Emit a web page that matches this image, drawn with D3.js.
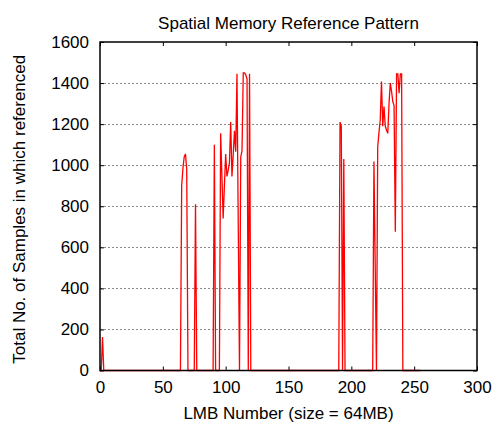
<!DOCTYPE html>
<html lang="en">
<head>
<meta charset="utf-8">
<title>Spatial Memory Reference Pattern</title>
<script src="https://d3js.org/d3.v7.min.js"></script>
<style type="text/css">
body {
    margin: 0;
    background: #fff;
}
text {
    font-family: "Liberation Sans", Arial, sans-serif;
    fill: #000;
}
</style>
</head>
<body>
<div id="my_dataviz"></div>
<script>
// LMB numbers and the samples count (line sits on 0 between spikes)
var lmbNumbers = [0, 1, 2, 3,
  64, 65, 66, 67, 68, 69, 70,
  75, 76, 77,
  90, 91, 92, 95, 96, 97, 98, 99, 100, 101, 102, 103, 104, 105, 106, 107, 108, 109, 110,
  111, 112, 113, 114, 115, 116, 117, 118, 119, 120,
  190, 191, 192, 193, 194, 195,
  217, 218, 219, 220, 221, 222, 223, 224, 225, 226, 227, 228, 229, 230,
  231, 232, 233, 234, 235, 236, 237, 238, 239, 240, 241, 255];
var sampleCounts = [0, 0, 163, 0,
  0, 900, 985, 1040, 1055, 980, 0,
  0, 810, 0,
  0, 1100, 0, 0, 1156, 950, 741, 900, 1054, 945, 975, 1010, 1210, 945, 1050, 1167, 1066, 1445, 720,
  0, 1040, 1070, 1450, 1450, 1440, 1420, 0, 1445, 0,
  0, 1210, 1190, 0, 1030, 0,
  0, 1018, 510, 0, 1090, 1160, 1220, 1408, 1190, 1286, 1190, 1170, 1155, 1300,
  1400, 1360, 1310, 1290, 676, 1445, 1445, 1350, 1445, 1445, 0, 0];

var xTicks = [0, 50, 100, 150, 200, 250, 300];
var yTicks = [0, 200, 400, 600, 800, 1000, 1200, 1400, 1600];
var gridValues = [200, 400, 600, 800, 1000, 1200, 1400];

var W = 493, H = 426;
var margin = {top: 42, right: 16, bottom: 55.5, left: 100};
var width = W - margin.left - margin.right,
    height = H - margin.top - margin.bottom;

var svg = d3.select("#my_dataviz")
  .append("svg")
    .attr("width", W)
    .attr("height", H)
  .append("g")
    .attr("transform", "translate(" + margin.left + "," + margin.top + ")");

var x = d3.scaleLinear().domain([0, 300]).range([0, width]);
var y = d3.scaleLinear().domain([0, 1600]).range([height, 0]);

// dashed grid
svg.append("g")
  .selectAll("line")
  .data(gridValues)
  .enter()
  .append("line")
    .attr("x1", 0)
    .attr("x2", width)
    .attr("y1", function(d) { return Math.round(y(d)) + 0.5; })
    .attr("y2", function(d) { return Math.round(y(d)) + 0.5; })
    .attr("stroke", "#8a8a8a")
    .attr("stroke-width", 1)
    .attr("stroke-dasharray", "2,2");

// axes, ticks pointing in
var xAxis = svg.append("g")
  .attr("transform", "translate(0," + height + ")")
  .call(d3.axisBottom(x).tickValues(xTicks).tickSize(-4).tickPadding(10).tickFormat(d3.format("d")));
var xTop = svg.append("g")
  .call(d3.axisTop(x).tickValues(xTicks).tickSize(-4).tickFormat(""));
var yAxis = svg.append("g")
  .call(d3.axisLeft(y).tickValues(yTicks).tickSize(-4).tickPadding(11).tickFormat(d3.format("d")));
var yRight = svg.append("g")
  .attr("transform", "translate(" + width + ",0)")
  .call(d3.axisRight(y).tickValues(yTicks).tickSize(-4).tickFormat(""));

svg.selectAll(".domain").remove();
svg.selectAll(".tick text")
  .style("font-family", "'Liberation Sans', Arial, sans-serif")
  .style("font-size", "17px")
  .attr("fill", "#000");
svg.selectAll(".tick line").attr("stroke", "#000");

// the series
var points = lmbNumbers.map(function(d, i) { return [d, sampleCounts[i]]; });
var line = d3.line()
  .x(function(d) { return x(d[0]); })
  .y(function(d) { return y(d[1]); });

svg.append("path")
  .datum(points)
  .attr("d", line)
  .attr("fill", "none")
  .attr("stroke", "#ff0000")
  .attr("stroke-width", 1.3)
  .attr("stroke-linejoin", "miter");

// frame
svg.append("rect")
  .attr("x", 0)
  .attr("y", 0)
  .attr("width", width)
  .attr("height", height)
  .attr("fill", "none")
  .attr("stroke", "#000")
  .attr("stroke-width", 1.5);

// titles
svg.append("text")
  .attr("x", width / 2)
  .attr("y", 29 - margin.top)
  .attr("text-anchor", "middle")
  .style("font-size", "17px")
  .text("Spatial Memory Reference Pattern");

svg.append("text")
  .attr("x", width / 2)
  .attr("y", 419 - margin.top)
  .attr("text-anchor", "middle")
  .style("font-size", "17px")
  .text("LMB Number (size = 64MB)");

svg.append("text")
  .attr("transform", "translate(" + (25 - margin.left) + "," + (height / 2 + 3) + ") rotate(-90)")
  .attr("text-anchor", "middle")
  .style("font-size", "17px")
  .text("Total No. of Samples in which referenced");
</script>
</body>
</html>
